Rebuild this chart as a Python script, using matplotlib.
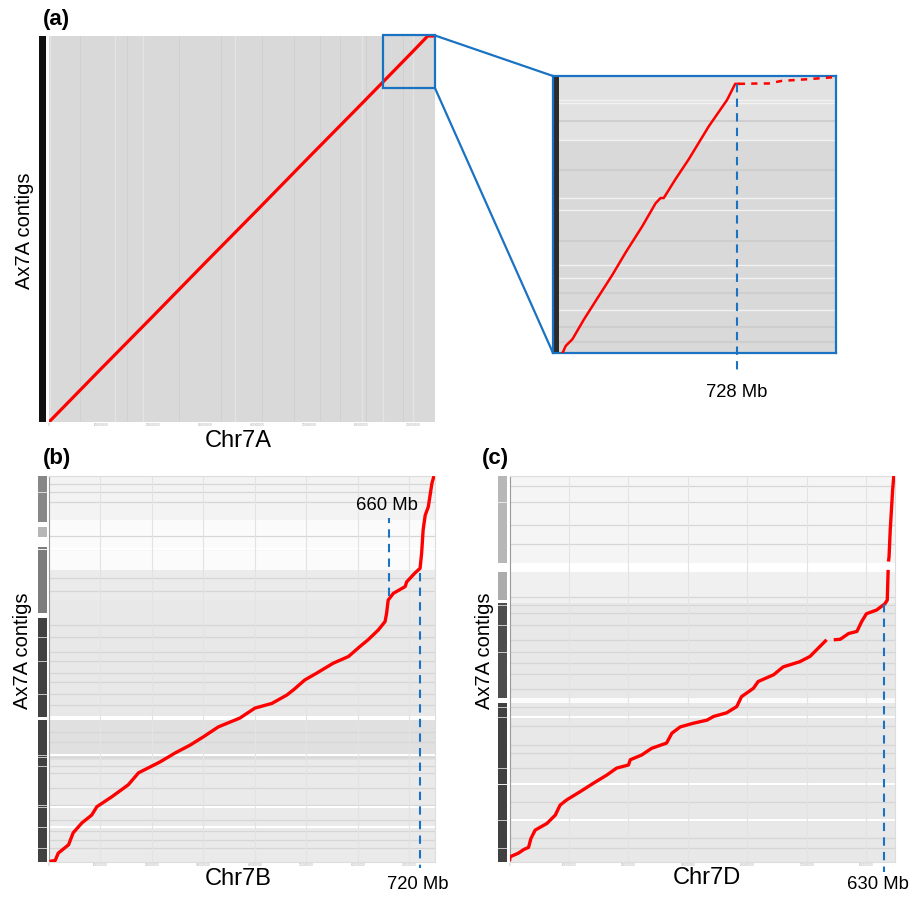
import matplotlib.pyplot as plt
from matplotlib.patches import Rectangle, ConnectionPatch

plt.rcParams['font.family'] = ['Liberation Sans', 'DejaVu Sans']

W, H = 911, 897
BLUE = '#1a72c2'
RED = '#ff0000'

# ---- data (Mb) ----
# (a) Chr7A vs Ax7A contigs
a_x = [0, 100, 200, 300, 400, 500, 600, 700, 728, 742]
a_y = [0, 102, 203, 305, 406, 508, 609, 711, 740, 740]
a_light_x = [127, 181, 358, 602, 642, 700, 2]
a_dark_x = [60, 250, 330, 470, 520, 560, 680, 150, 410, 610]

# inset: end of Chr7A
z_x = [678.7, 679.6, 681.5, 684.7, 689.0, 692.8, 696.5, 701.2, 705.0, 706.4,
       707.3, 710.6, 714.4, 720.0, 721.9, 725.2, 727.5, 728.5]
z_y = [676.0, 677.9, 679.7, 684.9, 691.3, 696.9, 702.8, 709.8, 716.0, 717.4,
       717.4, 722.4, 727.8, 736.5, 739.1, 743.6, 747.9, 747.9]
z_tail_x = [728.5, 734.1, 736.9, 740.7, 747.3, 755.7]
z_tail_y = [747.9, 748.0, 748.0, 748.7, 749.1, 749.7]
z_white_y = [743.6, 742.7, 732.9, 717.4, 714.2, 699.6, 696.0, 687.6]
z_dark_y = [738, 725, 706, 692, 683, 679]

# (b) Chr7B vs Ax7A contigs
b_x = [1, 12, 18, 38, 47, 64, 83, 93, 122, 154, 174, 216, 245, 274, 300, 329,
       371, 400, 433, 462, 475, 497, 520, 552, 582, 604, 620, 640, 653, 656,
       659, 669, 692, 695, 711, 721, 724, 727, 731, 737, 744, 748]
b_y = [1, 3, 17, 33, 56, 75, 90, 106, 125, 148, 171, 192, 209, 224, 240, 259,
       276, 295, 304, 320, 330, 349, 362, 381, 394, 413, 426, 445, 461, 477,
       502, 515, 528, 537, 554, 563, 592, 637, 665, 681, 726, 740]
b_band_y0 = [656, 560, 502, 278, 196, 0]
b_band_y1 = [740, 656, 560, 502, 272, 196]
b_lab_y0 = [652, 623, 477, 278, 0]
b_lab_y1 = [740, 642, 604, 468, 272]
b_dark_y = [432, 403, 362, 323, 301, 231, 202, 170, 141, 109, 81, 42, 26,
            520, 545, 600, 625, 690, 710, 725, 455, 385, 345, 250, 185, 60]
b_white_y = [278, 205, 106, 68, 600]

# (c) Chr7D vs Ax7A contigs
c_x = [0, 1, 15, 24, 32, 36, 43, 63, 77, 85, 96, 119, 141, 164, 180, 200,
       203, 222, 239, 264, 273, 287, 309, 332, 343, 365, 382, 390, 410, 418,
       444, 460, 488, 505, 519, 533, float('nan'), 545, 556, 570, 584, 592,
       600, 617, 631, 635, 636.5, float('nan'), 637, 638, 640, 644, 646]
c_y = [2, 10, 17, 24, 28, 45, 61, 74, 90, 109, 119, 135, 151, 167, 180, 186,
       196, 205, 218, 228, 247, 259, 266, 272, 279, 286, 298, 317, 333, 346,
       359, 374, 384, 394, 410, 426, float('nan'), 426, 427, 438, 442, 461,
       476, 483, 495, 502, 560, float('nan'), 576, 585, 637, 713, 740]
c_band_y0 = [573, 556, 496, 314, 305, 0]
c_band_y1 = [740, 573, 556, 496, 314, 305]
c_lab_y0 = [573, 502, 314, 0]
c_lab_y1 = [742, 556, 496, 305]
c_dark_y = [690.7, 646, 508.6, 492.6, 476.7, 425.6, 403, 380.9, 331, 297.7,
            224.3, 208.4, 179.6, 115.6, 45.4, 26.3, 720, 610, 455, 360, 260, 150]
c_white_y = [278.5, 150, 80]

band_shade = ['#f3f3f3', '#fbfbfb', '#ebebeb', '#e8e8e8', '#e0e0e0', '#eaeaea']
c_band_shade = ['#f5f5f5', '#ffffff', '#f0f0f0', '#e8e8e8', '#fbfbfb', '#e8e8e8']
b_lab_alpha = [0.5, 0.3, 0.55, 0.8, 0.8]
c_lab_alpha = [0.3, 0.35, 0.75, 0.8]

tick_mb = [0, 100, 200, 300, 400, 500, 600, 700]
tick_txt = ['0'] + [str(t) + '000000' for t in tick_mb[1:]]


def box(x0, y0, x1, y1):
    # pixel box -> figure fraction [l, b, w, h]
    return [x0 / W, 1 - y1 / H, (x1 - x0) / W, (y1 - y0) / H]


def fig_txt(x, y, s, **kw):
    fig.text(x / W, 1 - y / H, s, **kw)


def tiny_ticks(ax, xmax):
    ticks = [t for t in tick_mb if t <= xmax]
    ax.set_xticks(ticks, tick_txt[:len(ticks)])
    ax.tick_params(axis='x', length=0, pad=1, labelsize=2.2, labelcolor='#a8a8a8')
    ax.set_yticks([])


def label_strip(rect, y0s, y1s, alphas, ymax, lines=()):
    s = fig.add_axes(rect)
    s.set_xlim(0, 1)
    s.set_ylim(0, ymax)
    for lo, hi, al in zip(y0s, y1s, alphas):
        s.axhspan(lo, hi, color='#111111', alpha=al, lw=0)
    for y in lines:
        s.axhline(y, color='white', lw=0.7, alpha=0.7)
    s.axis('off')
    return s


fig = plt.figure(figsize=(W / 100, H / 100), dpi=100)

# ---- (a) ----
ax_a = fig.add_axes(box(49, 36, 435, 422))
ax_a.set_facecolor('#d9d9d9')
for x in a_dark_x:
    ax_a.axvline(x, color='#d0d0d0', lw=0.7, zorder=1)
for x in a_light_x:
    ax_a.axvline(x, color='#e4e4e4', lw=0.9, zorder=1)
ax_a.plot(a_x, a_y, color=RED, lw=2.3, zorder=3, solid_capstyle='butt')
ax_a.set_xlim(0, 742)
ax_a.set_ylim(0, 740)
tiny_ticks(ax_a, 742)
for sp in ax_a.spines.values():
    sp.set_visible(False)
ax_a.add_patch(Rectangle((642, 640), 100, 101, fill=False, edgecolor=BLUE,
                         lw=1.6, clip_on=False, zorder=4))
label_strip(box(39, 36, 46, 422), [0], [740], [1.0], 740)

ax_a.text((238 - 49) / 386, -(441 - 422) / 386, 'Chr7A', transform=ax_a.transAxes,
          ha='center', va='center', fontsize=17)
ax_a.text((25 - 49) / 386, (422 - 231) / 386, 'Ax7A contigs', transform=ax_a.transAxes,
          ha='center', va='center', rotation=90, fontsize=14.5)

# ---- inset ----
ax_z = fig.add_axes(box(553, 76, 836, 353))
ax_z.set_facecolor('#d9d9d9')
ax_z.axhspan(733, 750, color='#e2e2e2', lw=0)
for y in z_dark_y:
    ax_z.axhline(y, color='#cecece', lw=1.5)
for y in z_white_y:
    ax_z.axhline(y, color='#f2f2f2', lw=1.0)
ax_z.add_patch(Rectangle((0, 0), 0.02, 1, transform=ax_z.transAxes,
                         color='#2b2b2b', lw=0, zorder=2))
ax_z.plot(z_x, z_y, color=RED, lw=1.8, zorder=3)
ax_z.plot(z_tail_x, z_tail_y, color=RED, lw=1.8, ls=(0, (2.5, 2.5)), zorder=3)
ax_z.plot([728, 728], [747.9, 671.5], color=BLUE, lw=1.5, ls=(0, (4, 3)),
          clip_on=False, zorder=4)
ax_z.text(728, 667.6, '728 Mb', ha='center', va='top', fontsize=13.3)
ax_z.set_xlim(676, 756)
ax_z.set_ylim(676, 750)
ax_z.set_xticks([])
ax_z.set_yticks([])
for sp in ax_z.spines.values():
    sp.set_color(BLUE)
    sp.set_linewidth(1.6)

for ya, yb in [(741, 1), (640, 0)]:
    con = ConnectionPatch(xyA=(742, ya), coordsA=ax_a.transData,
                          xyB=(0, yb), coordsB=ax_z.transAxes,
                          color=BLUE, lw=1.6)
    fig.add_artist(con)


def dot_panel(rect, strip_rect, xs, ys, xmax, y0s, y1s, shades, dark, white,
              lab0, lab1, lab_al):
    ax = fig.add_axes(rect)
    ax.set_facecolor('white')
    for lo, hi, c in zip(y0s, y1s, shades):
        ax.axhspan(lo, hi, color=c, lw=0, zorder=0)
    for y in dark:
        ax.axhline(y, color='#d6d6d6', lw=0.9, zorder=1)
    for y in white:
        ax.axhline(y, color='white', lw=1.5, zorder=1)
    for t in tick_mb:
        if t <= xmax:
            ax.axvline(t, color='#e3e3e3', lw=0.8, zorder=1)
    ax.plot(xs, ys, color=RED, lw=2.4, zorder=3, solid_capstyle='butt')
    ax.set_xlim(0, xmax)
    ax.set_ylim(0, 740)
    tiny_ticks(ax, xmax)
    for name, sp in ax.spines.items():
        sp.set_color('#dddddd' if name != 'left' else '#9a9a9a')
        sp.set_linewidth(0.8)
    label_strip(strip_rect, lab0, lab1, lab_al, 740, white + dark[::3])
    return ax


# ---- (b) ----
ax_b = dot_panel(box(49, 476, 435, 862), box(38, 476, 47, 862), b_x, b_y, 750,
                 b_band_y0, b_band_y1, band_shade, b_dark_y, b_white_y,
                 b_lab_y0, b_lab_y1, b_lab_alpha)
ax_b.plot([660, 660], [509, 659], color=BLUE, lw=1.5, ls=(0, (4, 3)), zorder=4)
ax_b.plot([720, 720], [554, -12], color=BLUE, lw=1.5, ls=(0, (4, 3)),
          clip_on=False, zorder=4)
ax_b.text(657, 684, '660 Mb', ha='center', va='center', fontsize=13.3)
ax_b.text(717, -44, '720 Mb', ha='center', va='center', fontsize=13.3)
ax_b.text((238 - 49) / 386, -(879 - 862) / 386, 'Chr7B', transform=ax_b.transAxes,
          ha='center', va='center', fontsize=17)
ax_b.text((23 - 49) / 386, (862 - 651) / 386, 'Ax7A contigs', transform=ax_b.transAxes,
          ha='center', va='center', rotation=90, fontsize=14.5)

# ---- (c) ----
ax_c = dot_panel(box(509.5, 476, 895, 862), box(498, 476, 507, 862), c_x, c_y, 648,
                 c_band_y0, c_band_y1, c_band_shade, c_dark_y, c_white_y,
                 c_lab_y0, c_lab_y1, c_lab_alpha)
ax_c.plot([630, 630], [494, -20], color=BLUE, lw=1.5, ls=(0, (4, 3)),
          clip_on=False, zorder=4)
ax_c.text(619.5, -44, '630 Mb', ha='center', va='center', fontsize=13.3)
ax_c.text((706.7 - 509.5) / 385.5, -(878 - 862) / 386, 'Chr7D', transform=ax_c.transAxes,
          ha='center', va='center', fontsize=17)
ax_c.text((484 - 509.5) / 385.5, (862 - 651) / 386, 'Ax7A contigs', transform=ax_c.transAxes,
          ha='center', va='center', rotation=90, fontsize=14.5)

# panel letters
fig_txt(43, 20, '(a)', fontsize=16, fontweight='bold', ha='left', va='center')
fig_txt(43, 458, '(b)', fontsize=16, fontweight='bold', ha='left', va='center')
fig_txt(482, 458, '(c)', fontsize=16, fontweight='bold', ha='left', va='center')

fig.savefig('out.png', dpi=100)
